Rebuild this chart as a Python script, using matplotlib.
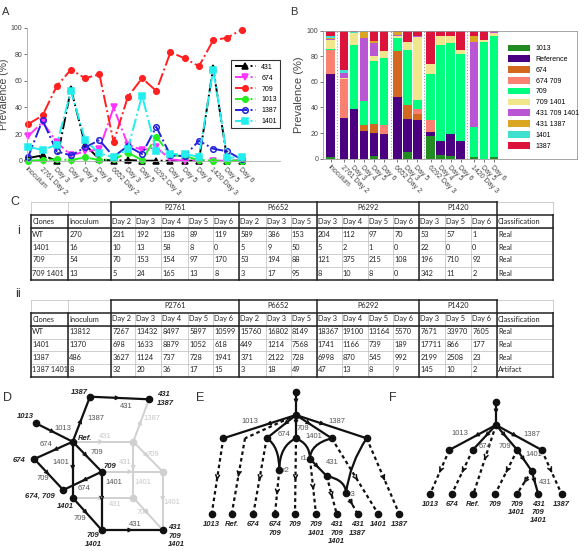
import numpy as np
import matplotlib.pyplot as plt
from matplotlib.path import Path
from matplotlib.patches import PathPatch

W, H = 587, 551
plt.rcParams['font.family'] = ['Liberation Sans', 'DejaVu Sans']

# ---------------- data ----------------
x_labels = ['Inoculum', '2761 Day 2', 'Day 3', 'Day 4', 'Day 5', 'Day 6',
            '6652 Day 2', 'Day 3', 'Day 5', '6292 Day 3', 'Day 4', 'Day 5',
            'Day 6', '1420 Day 3', 'Day 5', 'Day 6']
group_sizes = [1, 5, 3, 4, 3]

# panel A: prevalence (%) of single mutations
a_431 = [2, 4, 0, 54, 12, 1, 0, 0.5, 0, 0, 0, 0, 0, 70, 0, 0]
a_674 = [18.5, 29, 14, 4, 7, 8.5, 40, 12, 8, 10, 1, 0, 0, 0, 0, 0]
a_709 = [27.5, 34, 56, 68.5, 62, 65, 14, 48, 62, 52.5, 81.5, 77, 71, 90.5, 92.5, 98.5]
a_1013 = [0, 0.5, 1, 0.5, 2.5, 0.5, 1, 6, 0.5, 18, 4, 3.5, 0.5, 0, 0, 0]
a_1387 = [3, 30.5, 7, 4, 10, 15.5, 3, 11, 5, 25.5, 4, 3.5, 15, 9, 7, 1]
a_1401 = [10.5, 8, 12, 52.5, 15.5, 5.5, 2.5, 9, 49, 7.5, 5, 5, 3, 68.5, 2, 3]

# panel B: haplotype prevalence (%), stacked bottom to top
b_labels = ['1013', 'Reference', '674', '674 709', '709', '709 1401',
            '431 709 1401', '431 1387', '1401', '1387']
b_1013 = [1, 0, 0, 0, 2, 0, 0, 5, 0, 18, 3, 2, 0, 1, 0, 1]
b_ref = [65, 32, 39, 22, 18, 19, 48, 26, 30, 3, 11, 17, 14, 0, 0, 0]
b_674 = [0, 0, 0, 4, 7, 0, 36, 11, 5, 0, 0, 0, 0, 0, 0, 0]
b_674_709 = [19, 30, 0, 0, 0, 7, 0, 0, 4, 9, 0, 0, 0, 0, 0, 0]
b_709 = [0.5, 0, 50, 19, 49, 53, 10, 43, 7, 36, 75, 71, 68, 24, 91, 95]
b_709_1401 = [7, 1, 9, 0, 4, 5, 2, 6, 49, 8, 7, 6, 3, 0, 2, 2]
b_431_709_1401 = [1, 4, 0, 49, 10, 0, 1, 0, 1, 0, 0, 0, 0, 66, 0, 1]
b_431_1387 = [0.5, 0, 0, 5, 2, 0, 2, 0, 0, 0, 0, 0, 0, 5, 0, 0]
b_1401 = [2, 2, 1, 1, 0, 0, 0, 0, 0, 0, 0, 0, 0, 0, 0, 0]
b_1387 = [4, 31, 1, 0, 8, 16, 1, 9, 4, 26, 4, 4, 15, 4, 7, 1]

# panel C tables
patients = ['P2761', 'P6652', 'P6292', 'P1420']
day_headers = ['Day 2', 'Day 3', 'Day 4', 'Day 5', 'Day 6', 'Day 2', 'Day 3', 'Day 5',
               'Day 3', 'Day 4', 'Day 5', 'Day 6', 'Day 3', 'Day 5', 'Day 6']
ci_clones = ['WT', '1401', '709', '709 1401']
ci_inoc = [270, 16, 54, 13]
ci_counts = [[231, 192, 138, 89, 119, 589, 386, 153, 204, 112, 97, 70, 53, 57, 1],
             [10, 13, 58, 8, 0, 5, 9, 50, 5, 2, 1, 0, 22, 0, 0],
             [70, 153, 154, 97, 170, 53, 194, 88, 121, 375, 215, 108, 196, 710, 92],
             [5, 24, 165, 13, 8, 3, 17, 95, 8, 10, 8, 0, 342, 11, 2]]
ci_class = ['Real', 'Real', 'Real', 'Real']
cii_clones = ['WT', '1401', '1387', '1387 1401']
cii_inoc = [13812, 1370, 486, 8]
cii_counts = [[7267, 13432, 8497, 5897, 10599, 15760, 16802, 8149, 18367, 19100, 13164, 5570, 7671, 33970, 7605],
              [698, 1633, 8879, 1052, 618, 449, 1214, 7568, 1741, 1166, 739, 189, 17711, 866, 177],
              [3627, 1124, 737, 728, 1941, 371, 2122, 728, 6998, 870, 545, 992, 2199, 2508, 23],
              [32, 20, 36, 17, 15, 3, 18, 49, 47, 13, 8, 9, 145, 10, 2]]
cii_class = ['Real', 'Real', 'Real', 'Artifact']

fig = plt.figure(figsize=(W / 100, H / 100), dpi=100)


def px_axes(l, t, r, b):
    return fig.add_axes([l / W, 1 - b / H, (r - l) / W, (b - t) / H])


# ---------------- panel A ----------------
axA = px_axes(27, 27.7, 280, 160.7)
xa = np.arange(len(x_labels))
series_a = [('431', a_431, 'black', '^', 'black'),
            ('674', a_674, '#ff33ff', 'v', '#ff33ff'),
            ('709', a_709, '#ff2020', 'o', '#ff2020'),
            ('1013', a_1013, '#22ee22', 'o', '#22ee22'),
            ('1387', a_1387, '#2222dd', 'o', 'none'),
            ('1401', a_1401, '#22eeee', 's', '#22eeee')]
for lab, vals, col, mk, mfc in series_a:
    axA.plot(xa, vals, linestyle='-.', lw=1.4, color=col, marker=mk, ms=4,
             mfc=mfc, mec=col, mew=1.1, label=lab, clip_on=False)
axA.set_xlim(-0.09, 17.7)
axA.set_ylim(0, 100)
axA.set_yticks(range(0, 101, 20))
axA.set_xticks(xa)
axA.set_xticklabels(x_labels, rotation=-45, ha='left', va='top',
                    rotation_mode='anchor', fontsize=5)
axA.tick_params(labelsize=5, length=2, width=0.5, colors='#444', pad=1.5)
for s in ['top', 'right']:
    axA.spines[s].set_visible(False)
for s in ['left', 'bottom']:
    axA.spines[s].set_color('#aaa')
    axA.spines[s].set_linewidth(0.6)
axA.set_ylabel('Prevalence (%)', fontsize=7.5, color='#444', labelpad=1)
legA = axA.legend(loc='upper left', bbox_to_anchor=(0.794, 0.78), fontsize=5,
                  handlelength=3, labelspacing=0.55, borderpad=0.5,
                  frameon=True, fancybox=False, edgecolor='black')
legA.get_frame().set_linewidth(0.8)

# ---------------- panel B ----------------
axB = px_axes(323, 30.7, 577, 158.7)
xb = []
start = 0.0
bounds = []
for n in group_sizes:
    xb.extend([start + k for k in range(n)])
    bounds.append(start + n - 1)
    start += n + 0.33
xb = np.array(xb)
b_colors = ['#228b22', '#4b0082', '#d2691e', '#fa8072', '#00ff7f', '#f0e68c',
            '#ba55d3', '#daa520', '#40e0d0', '#dc143c']
b_series = [b_1013, b_ref, b_674, b_674_709, b_709, b_709_1401,
            b_431_709_1401, b_431_1387, b_1401, b_1387]
bottom = np.zeros(len(xb))
for lab, vals, col in zip(b_labels, b_series, b_colors):
    axB.bar(xb, vals, bottom=bottom, width=0.85, color=col, label=lab, linewidth=0)
    bottom += np.array(vals)
for b in bounds[:-1]:
    axB.axvline(b + 0.665, color='#999', lw=0.8, linestyle=':')
axB.set_xlim(-0.77, 24.63)
axB.set_ylim(0, 100)
axB.set_yticks(range(0, 101, 20))
axB.set_xticks(xb)
axB.set_xticklabels(x_labels, rotation=-45, ha='left', va='top',
                    rotation_mode='anchor', fontsize=5)
axB.tick_params(labelsize=5, length=2, width=0.5, colors='#444', pad=1.5)
for s in axB.spines.values():
    s.set_color('#999')
    s.set_linewidth(0.6)
axB.set_ylabel('Prevalence (%)', fontsize=8, color='#444', labelpad=2)
legB = axB.legend(loc='upper left', bbox_to_anchor=(0.709, 0.93), fontsize=5,
                  handlelength=3.2, handleheight=1.1, labelspacing=0.45,
                  borderpad=0.2, frameon=False)

# ---------------- overlay for C-F ----------------
ax = fig.add_axes([0, 0, 1, 1])
ax.set_xlim(0, W)
ax.set_ylim(H, 0)
ax.axis('off')

for txt, x, y, fs in [('A', 2, 12, 8), ('B', 290, 12, 8), ('C', 10, 202, 9),
                      ('i', 17, 231, 9), ('ii', 15, 294, 9), ('D', 3, 398, 9),
                      ('E', 196, 398, 9), ('F', 389, 398, 9)]:
    ax.text(x, y, txt, fontsize=fs, color='#333', va='center', ha='left')

col_edges = [31, 68, 111, 135, 161, 188, 213, 239, 266, 290.5, 316.7, 341.7,
             367.7, 393, 419, 445, 471, 496.7, 553]
tfont = dict(fontsize=5.3, family=['Lato', 'DejaVu Sans'], color='#222', va='center')


def draw_table(rows_y, clones, inoc, counts, classes):
    thin = dict(color='#bbb', lw=0.5)
    thick = dict(color='#222', lw=1.1)
    x0, x1 = col_edges[0], col_edges[-1]
    # thin grid
    for y in rows_y[2:-1]:
        ax.plot([x0, x1], [y, y], **thin)
    for x in col_edges:
        ax.plot([x, x], [rows_y[1], rows_y[-1]], **thin)
    ax.plot([x0, col_edges[2]], [rows_y[0], rows_y[0]], **thin)
    ax.plot([col_edges[-2], x1], [rows_y[0], rows_y[0]], **thin)
    for x in [x0, col_edges[1], x1]:
        ax.plot([x, x], [rows_y[0], rows_y[1]], **thin)
    # thick lines
    for y in [rows_y[1], rows_y[2], rows_y[-1]]:
        ax.plot([x0, x1], [y, y], **thick)
    ax.plot([col_edges[2], col_edges[-2]], [rows_y[0], rows_y[0]], **thick)
    for x in [x0, col_edges[1], x1]:
        ax.plot([x, x], [rows_y[1], rows_y[-1]], **thick)
    gi = 2
    group_edges = [col_edges[2]]
    for n in group_sizes[1:]:
        gi += n
        group_edges.append(col_edges[gi])
    for x in group_edges:
        ax.plot([x, x], [rows_y[0], rows_y[-1]], **thick)
    # header texts
    yc = [(rows_y[i] + rows_y[i + 1]) / 2 for i in range(len(rows_y) - 1)]
    for p, a, b in zip(patients, group_edges[:-1], group_edges[1:]):
        ax.text((a + b) / 2, yc[0], p, ha='center', **tfont)
    head = ['Clones', 'Inoculum'] + day_headers + ['Classification']
    for i, h in enumerate(head):
        ax.text(col_edges[i] + 1.2, yc[1], h, ha='left', **tfont)
    for r in range(len(clones)):
        cells = [clones[r], str(inoc[r])] + [str(v) for v in counts[r]] + [classes[r]]
        for i, c in enumerate(cells):
            ax.text(col_edges[i] + 1.2, yc[r + 2], c, ha='left', **tfont)


draw_table([201.5, 214.5, 228, 241, 253.5, 266.5, 279.5],
           ci_clones, ci_inoc, ci_counts, ci_class)
draw_table([299.5, 312.5, 325.5, 338.5, 351, 363.5, 376.5],
           cii_clones, cii_inoc, cii_counts, cii_class)

# ---------------- graph helpers ----------------
edge_font = dict(fontsize=5.5, color='#555', va='center', ha='center')
node_font = dict(fontsize=5.5, color='#222', fontweight='bold', fontstyle='italic',
                 va='center', linespacing=1.25)


def chevron(p, q, t=0.5, color='#111', lw=1.0, size=6):
    p, q = np.array(p, float), np.array(q, float)
    d = (q - p) / np.linalg.norm(q - p)
    m = p + t * (q - p)
    ax.annotate('', xy=m + d * 0.6, xytext=m - d * 0.6,
                arrowprops=dict(arrowstyle='->', color=color, lw=lw,
                                mutation_scale=size, shrinkA=0, shrinkB=0))


def line(p, q, color='#111', lw=1.6, dashed=False, arrow=True, t=0.5, size=6):
    ls = (0, (1.6, 1.4)) if dashed else '-'
    ax.plot([p[0], q[0]], [p[1], q[1]], color=color, lw=lw, linestyle=ls,
            solid_capstyle='round')
    if arrow:
        chevron(p, q, t=t, color=color, lw=1.0 if not dashed else 1.1, size=size)


def curve(p, c, q, color='#111', lw=1.6):
    path = Path([p, c, q], [Path.MOVETO, Path.CURVE3, Path.CURVE3])
    ax.add_patch(PathPatch(path, fill=False, color=color, lw=lw))


def nodes(pts, color='#111', ms=4.5):
    xs = [p[0] for p in pts]
    ys = [p[1] for p in pts]
    ax.plot(xs, ys, 'o', color=color, ms=ms, zorder=5)


# ---------------- panel D ----------------
D = {'ref': (72.7, 441.7), 'n1387': (90, 396.7), 'n431_1387': (149, 399.3),
     'n1013': (36, 423.3), 'n674': (34.3, 459), 'n709': (101.7, 471.7),
     'n674_709': (63.3, 490), 'n1401': (72.7, 497.7), 'n709_1401': (101.7, 530),
     'n431_709_1401': (162.7, 530), 'g431': (133.3, 441.7),
     'g431_709': (162.7, 471.7), 'g431_1401': (133.3, 497.7)}
faded = [('ref', 'g431', '431', (105, 436)),
         ('g431', 'n431_1387', '1387', (152, 419)),
         ('g431', 'g431_709', '709', (153, 455)),
         ('g431', 'g431_1401', '1401', (143, 483)),
         ('n709', 'g431_709', '431', (125, 463)),
         ('g431_709', 'n431_709_1401', '1401', (172, 503)),
         ('n1401', 'g431_1401', '431', (115, 505)),
         ('g431_1401', 'n431_709_1401', '709', (143, 512))]
dark = [('n1387', 'n431_1387', '431', (126.7, 406)),
        ('ref', 'n1387', '1387', (96, 418)),
        ('n1013', 'ref', '1013', (63, 428)),
        ('ref', 'n674', '674', (46, 445)),
        ('ref', 'n709', '709', (97, 453)),
        ('ref', 'n1401', '1401', (61, 462)),
        ('n674', 'n674_709', '709', (43, 479)),
        ('n709', 'n674_709', '674', (84, 489)),
        ('n709', 'n709_1401', '1401', (114, 483)),
        ('n1401', 'n709_1401', '709', (80, 518)),
        ('n709_1401', 'n431_709_1401', '431', (135, 524))]
for a, b, lab, pos in faded:
    line(D[a], D[b], color='#d0d0d0', lw=1.4)
    ax.text(pos[0], pos[1], lab, **dict(edge_font, color='#c8c8c8'))
nodes([D['g431'], D['g431_709'], D['g431_1401']], color='#d0d0d0')
for a, b, lab, pos in dark:
    line(D[a], D[b])
    ax.text(pos[0], pos[1], lab, **edge_font)
nodes([D[k] for k in D if not k.startswith('g')])
for txt, x, y, ha in [('1387', 88, 393, 'right'), ('431\n1387', 157, 399, 'left'),
                      ('1013', 17, 417, 'left'), ('Ref.', 78, 438, 'left'),
                      ('674', 13, 460, 'left'), ('709', 103, 467, 'left'),
                      ('674, 709', 25, 496, 'left'), ('1401', 57, 507, 'left'),
                      ('709\n1401', 93, 540, 'center'),
                      ('431\n709\n1401', 168, 536, 'left')]:
    ax.text(x, y, txt, ha=ha, **node_font)

# ---------------- panel E ----------------
E = {'top': (296, 391.7), 'root': (296, 415), 'e1013': (223.3, 438.3),
     'e674': (266.7, 438.3), 'e709': (296, 438.3), 'e1401': (331.7, 438.3),
     'e1387': (366.7, 438.3), 'r2': (279.3, 470), 'r1': (310, 459),
     'm431': (326.7, 476), 'r3': (346, 493.3)}
e_leaf_x = [211.7, 231.7, 253.3, 275, 295, 316, 336.7, 357.7, 378.3, 399.3]
e_leaf_y = 514
e_leaf_lab = ['1013', 'Ref.', '674', '674\n709', '709', '709\n1401',
              '431\n709\n1401', '431\n1387', '1401', '1387']
e_leaf_src = ['e1013', None, 'e674', 'r2', 'e709', 'r1', 'm431', 'r3', 'e1401', 'e1387']
ref_bend = (245, 438.3)
for src, lx in zip(e_leaf_src, e_leaf_x):
    if src is None:
        line(E['root'], ref_bend, dashed=True, arrow=False)
        line(ref_bend, (lx, e_leaf_y), dashed=True, t=0.5, size=7)
    else:
        line(E[src], (lx, e_leaf_y), dashed=True, t=0.55, size=7)
line(E['top'], E['root'])
for k in ['e1013', 'e674', 'e709', 'e1401', 'e1387']:
    line(E['root'], E[k], t=0.4)
curve(E['e674'], (279.3, 446), E['r2'])
curve(E['e709'], (279.3, 446), E['r2'])
curve(E['e709'], (310, 444), E['r1'])
curve(E['e1401'], (310, 444), E['r1'])
line(E['r1'], E['m431'])
curve(E['m431'], (346, 480), E['r3'])
curve(E['e1387'], (350, 463), E['r3'])
nodes(list(E.values()))
nodes([(x, e_leaf_y) for x in e_leaf_x])
for lab, x, y in [('1013', 250, 421.7), ('674', 284, 435), ('709', 303, 428.3),
                  ('1401', 314, 436.7), ('1387', 337, 421.7), ('431', 332, 462)]:
    ax.text(x, y, lab, **edge_font)
for lab, x, y in [('r1', 304, 459), ('r2', 286, 470), ('r3', 352, 494)]:
    ax.text(x, y, lab, **edge_font)
for lab, x in zip(e_leaf_lab, e_leaf_x):
    ax.text(x, 521.5, lab, ha='center', **dict(node_font, va='top'))

# ---------------- panel F ----------------
F = {'top': (496, 401.7), 'root': (496, 425), 'f1013': (449.3, 450),
     'f674': (472.7, 450), 'f709': (517.3, 450), 'f1387': (541.7, 450),
     'f1401': (531.7, 471)}
f_leaf_x = [430, 451.7, 473.3, 495, 516.7, 538.3, 561.7]
f_leaf_y = 494.3
f_leaf_lab = ['1013', '674', 'Ref.', '709', '709\n1401', '431\n709\n1401', '1387']
f_leaf_src = ['f1013', 'f674', 'root', 'f709', 'f1401', None, 'f1387']
for src, lx in zip(f_leaf_src, f_leaf_x):
    if src is not None:
        line(F[src], (lx, f_leaf_y), dashed=True, t=0.5, size=7)
line(F['top'], F['root'])
for k in ['f1013', 'f674', 'f709', 'f1387']:
    line(F['root'], F[k], t=0.45)
line(F['f709'], F['f1401'])
line(F['f1401'], (f_leaf_x[5], f_leaf_y))
nodes(list(F.values()))
nodes([(x, f_leaf_y) for x in f_leaf_x])
for lab, x, y in [('1013', 460, 433.3), ('674', 485, 446), ('709', 505, 446),
                  ('1387', 532, 434.3), ('1401', 534, 455), ('431', 545, 483)]:
    ax.text(x, y, lab, **edge_font)
for lab, x in zip(f_leaf_lab, f_leaf_x):
    ax.text(x, 500.5, lab, ha='center', **dict(node_font, va='top'))

fig.savefig('out.png', dpi=100)
